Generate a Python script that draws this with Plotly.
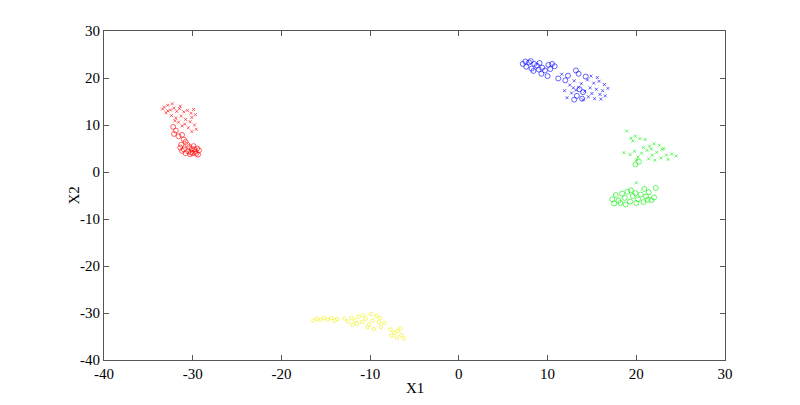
import plotly.graph_objects as go

red_x_x = [-33.2,-32.8,-32.5,-33.0,-32.1,-31.8,-31.5,-31.0,-30.6,-30.2,-32.4,-31.9,-31.3,-30.8,-30.1,-29.7,-31.6,-30.9,-30.3,-29.8,-32.0,-30.5,-29.6,-30.1,-31.2,-32.8,-33.4,-29.9,-31.4,-32.3]
red_x_y = [13.8,14.2,13.2,12.6,13.6,12.9,13.5,12.8,13.1,12.5,12.0,11.5,11.9,11.2,11.6,12.2,10.6,10.2,10.7,10.0,10.9,9.4,9.1,8.6,9.8,13.0,13.4,13.3,14.0,14.5]
red_o_x = [-32.2,-31.9,-32.1,-31.6,-31.2,-31.0,-30.8,-31.3,-31.0,-30.5,-30.1,-29.7,-30.3,-29.5,-30.8,-29.9,-30.4,-29.6,-31.2,-30.0,-29.3,-30.6,-29.8,-30.2,-31.4,-29.4]
red_o_y = [9.6,8.8,8.1,7.6,7.9,6.9,6.4,5.8,4.8,4.4,4.9,4.3,3.8,5.0,4.0,5.5,5.3,3.9,4.5,4.0,4.6,5.8,4.8,4.2,5.2,3.7]

blue_o_x = [7.2,7.6,7.9,8.2,8.5,8.8,9.1,9.0,8.4,9.4,9.7,10.1,10.5,10.8,10.3,7.5,8.1,9.3,10.0,11.2,12.0,13.2,13.5,14.3,13.6,13.3,13.9,13.0,12.3,14.0]
blue_o_y = [23.0,22.4,23.3,22.0,23.0,22.6,23.2,21.8,21.5,22.2,21.6,22.8,23.0,22.5,21.9,23.5,23.6,20.9,20.4,19.9,19.5,21.6,20.9,20.3,17.6,16.2,15.6,15.4,20.5,17.0]
blue_x_x = [11.6,12.5,13.0,13.8,14.5,15.2,15.8,16.4,16.8,15.5,14.8,14.2,13.2,12.7,15.0,15.9,16.5,14.6,15.3,12.2,14.0,16.2,13.5,14.9,15.6,12.9,16.0,11.9]
blue_x_y = [20.8,18.5,19.4,18.8,19.6,18.9,19.3,18.6,17.8,17.6,17.9,17.2,17.4,16.8,16.7,16.5,16.2,16.0,15.6,15.8,15.4,17.3,18.0,20.4,20.1,17.9,15.5,17.3]

green_x_x = [18.9,19.4,19.9,20.4,19.6,21.0,21.5,22.0,22.6,23.1,21.2,20.6,19.3,19.8,20.2,21.8,22.3,22.8,23.4,24.0,24.5,21.4,22.1,20.8,23.6,18.6,22.9,21.7,20.0,20.0]
green_x_y = [8.7,7.2,7.6,7.1,6.6,6.9,5.5,6.0,5.7,5.0,4.6,4.0,3.7,4.4,3.2,3.6,4.2,3.0,3.6,3.8,3.4,2.8,2.5,5.2,2.7,4.1,4.8,4.9,2.6,-2.3]
green_o_x = [19.9,20.3,17.3,17.7,18.0,18.4,18.7,19.0,19.3,19.6,19.9,20.2,20.5,20.8,21.1,21.4,21.7,22.0,22.2,18.2,19.4,20.9,21.3,18.8,20.0,17.5]
green_o_y = [1.6,2.2,-5.8,-4.9,-6.1,-4.6,-5.5,-4.2,-6.3,-5.1,-4.5,-5.8,-4.8,-6.4,-5.2,-4.3,-6.0,-5.4,-3.4,-6.6,-3.9,-3.6,-5.9,-6.9,-6.6,-6.7]

yellow_x = [-16.4,-16.0,-15.6,-15.2,-14.8,-14.4,-14.0,-13.7,-12.9,-12.5,-12.1,-11.7,-11.3,-10.9,-10.5,-10.1,-9.7,-9.3,-9.0,-11.5,-10.3,-9.6,-8.8,-8.4,-10.8,-12.0,-9.9,-8.9,-7.7,-7.3,-6.9,-6.5,-7.0,-6.2,-7.6,-6.6]
yellow_y = [-31.6,-31.2,-31.5,-31.0,-31.4,-31.1,-31.6,-31.3,-31.2,-31.8,-31.0,-31.6,-30.8,-31.9,-31.2,-32.4,-31.6,-30.6,-32.0,-32.3,-33.0,-33.4,-33.0,-32.1,-30.5,-32.5,-30.2,-31.1,-33.5,-34.2,-33.8,-34.7,-35.2,-35.4,-34.8,-33.3]

x_ticks = [-40, -30, -20, -10, 0, 10, 20, 30]
y_ticks = [-40, -30, -20, -10, 0, 10, 20, 30]
x_title = "X1"
y_title = "X2"

fig = go.Figure()

def add(xs, ys, color, sym, size, w):
    fig.add_trace(go.Scatter(x=xs, y=ys, mode="markers",
                             marker=dict(symbol=sym, size=size, color=color,
                                         line=dict(width=w, color=color)),
                             showlegend=False, hoverinfo="skip"))

add(red_x_x, red_x_y, "#ff0000", "x-thin-open", 3, 0.6)
add(red_o_x, red_o_y, "#ff0000", "circle-open", 5, 0.6)
add(blue_o_x, blue_o_y, "#0000ff", "circle-open", 5, 0.6)
add(blue_x_x, blue_x_y, "#0000ff", "x-thin-open", 3, 0.6)
add(green_x_x, green_x_y, "#00ee00", "x-thin-open", 3, 0.6)
add(green_o_x, green_o_y, "#00ee00", "circle-open", 5, 0.6)
add(yellow_x, yellow_y, "#f0f000", "circle-open", 3.5, 0.6)

axis_common = dict(showgrid=False, zeroline=False, showline=True, linecolor="#555555",
                   linewidth=1, mirror="ticks", ticks="inside", ticklen=5,
                   tickcolor="#555555", automargin=False,
                   tickfont=dict(family="Liberation Serif", size=15, color="#000000"))

fig.update_layout(
    width=792, height=397,
    margin=dict(l=96, r=75, t=23, b=45),
    paper_bgcolor="white", plot_bgcolor="white",
    xaxis=dict(range=[-40, 30], tickvals=x_ticks, ticktext=[str(v) for v in x_ticks], **axis_common),
    yaxis=dict(range=[-40, 30], tickvals=y_ticks, ticktext=[str(v) for v in y_ticks], **axis_common),
    annotations=[
        dict(text=x_title, xref="paper", yref="paper", x=0.5, y=0, xanchor="center",
             yanchor="middle", yshift=-28, showarrow=False,
             font=dict(family="Liberation Serif", size=15, color="#000")),
        dict(text=y_title, xref="paper", yref="paper", x=0, y=0.5, xanchor="center",
             yanchor="middle", xshift=-31, textangle=-90, showarrow=False,
             font=dict(family="Liberation Serif", size=15, color="#000")),
    ],
)

fig.write_html("out.html")
